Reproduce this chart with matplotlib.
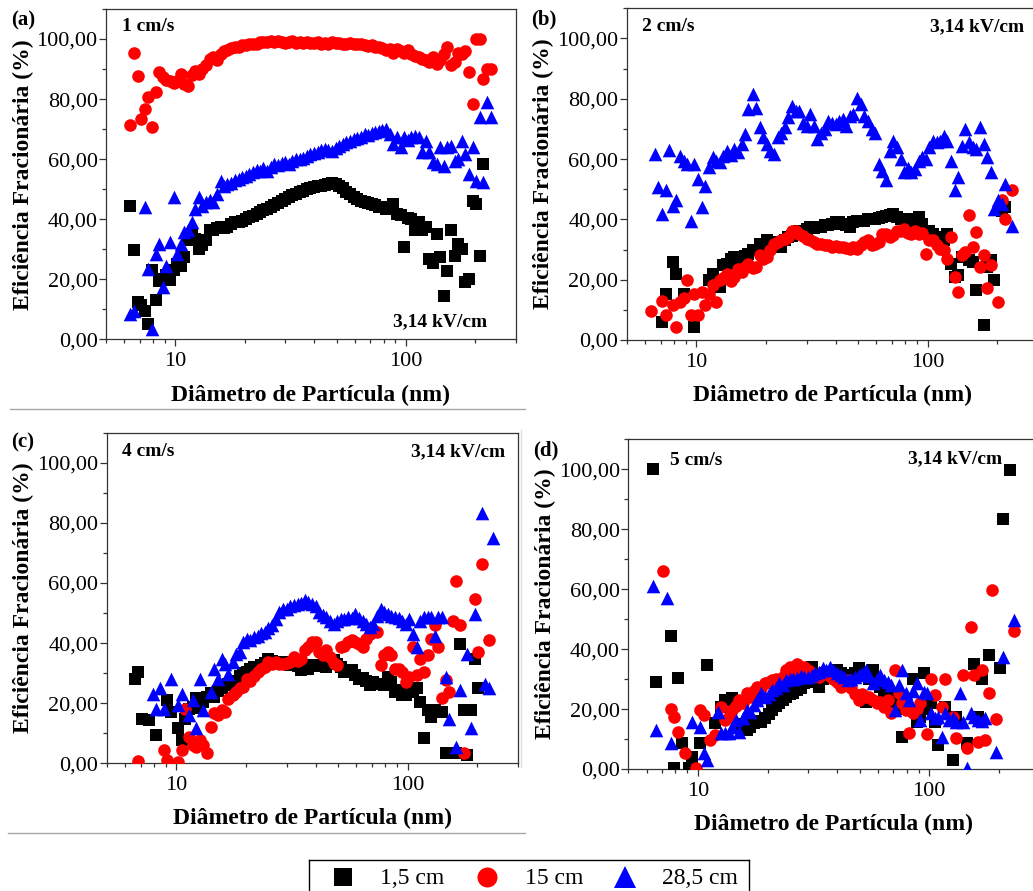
import numpy as np
import matplotlib
matplotlib.use("Agg")
import matplotlib.pyplot as plt
from matplotlib.ticker import FixedLocator, LogLocator, FuncFormatter, NullFormatter, MultipleLocator
from matplotlib.lines import Line2D

plt.rcParams['font.family'] = 'Liberation Serif'

nan = np.nan

# SMPS channel midpoints (nm)
diam = [6.38, 6.61, 6.85, 7.09, 7.37, 7.64, 7.91, 8.20, 8.51, 8.81,
        9.14, 9.47, 9.82, 10.2, 10.6, 10.9, 11.3, 11.8, 12.2, 12.6,
        13.1, 13.6, 14.1, 14.6, 15.1, 15.7, 16.3, 16.8, 17.5, 18.1,
        18.8, 19.5, 20.2, 20.9, 21.7, 22.5, 23.3, 24.1, 25.0, 25.9,
        26.9, 27.9, 28.9, 30.0, 31.1, 32.2, 33.4, 34.6, 35.9, 37.2,
        38.5, 40.0, 41.4, 42.9, 44.5, 46.1, 47.8, 49.6, 51.4, 53.3,
        55.2, 57.3, 59.4, 61.5, 63.8, 66.1, 68.5, 71.0, 73.7, 76.4,
        79.1, 82.0, 85.1, 88.2, 91.4, 94.7, 98.2, 101.8, 105.5, 109.4,
        113.4, 117.6, 121.9, 126.3, 131.0, 135.8, 140.7, 145.9, 151.2, 156.8,
        162.5, 168.5, 174.7, 181.1, 187.7, 194.6, 201.7, 209.1, 216.7, 224.7,
        232.9]

# (a) 1 cm/s
a_1_5 = [44.3, 29.8, 12.4, 11.5, 9.6, 5.2, 23, 13, 19.6, 20.2,
         21.5, 19.8, 23, 25.2, 24.5, 27.4, 33, 35, 33.5, 30.2,
         31.5, 33, 36.3, 36.5, 37, 37.5, 37.2, 37.4, 38.5, 39,
         39, 39.5, 40.2, 40.7, 41, 41.8, 42.5, 43, 43.5, 44.2,
         44.8, 45.5, 46.2, 46.8, 47.3, 48, 48.5, 49, 49.5, 50,
         50.3, 50.7, 51, 51.2, 51.5, 51.8, 52, 51.6, 51.2, 50.3,
         49.2, 48.4, 47.5, 46.8, 46.2, 45.9, 45.5, 45, 44.6, 44.2,
         44, 43.5, 44, 45.1, 41.8, 41.5, 30.7, 40.5, 40, 36.3,
         39, 36.3, 37.4, 26.8, 25.5, 35.2, 27.4, 14.6, 22.9, 36.3,
         27.9, 31.8, 30, 19, 20.2, 46.2, 45.1, 27.9, 58.4, nan,
         nan]
a_15 = [71.5, 95.3, 87.6, 73.4, 76.7, 80.6, 70.8, 82.3, 88.9, 87.5,
        86.5, 86, 85.5, 86, 88.5, 85, 84.5, 88, 89.5, 88.5,
        90, 91.5, 93.5, 94, 93, 95, 96, 96.5, 97, 97.5,
        97.5, 98, 98, 98.5, 98.5, 98.5, 99, 99, 99, 99.2,
        99, 99.3, 99, 98.8, 99, 99.2, 98.8, 99, 98.7, 99,
        98.8, 98.6, 99, 98.5, 98.8, 98.5, 99, 98.8, 98.8, 98.5,
        98.5, 98.7, 98.3, 98.5, 98.2, 98, 97.8, 98, 97.5, 97.3,
        97, 96.5, 96.8, 95.5, 96.7, 96, 95.5, 96.2, 95, 94.5,
        94, 93.5, 93, 92.5, 94, 91.7, 93, 95, 97.2, 91.5,
        92.2, 95.5, 95, 96, 88.9, 78.4, 100, 100, 86.7, 90,
        90]
a_28_5 = [8.5, 9.6, nan, nan, 44.2, 23.5, 3.5, 28.5, 31.8, 17.6,
          24.6, 32.4, 47.3, 28.5, 31.8, 35.7, 36.5, 39, 43.5, 47.3,
          44.5, 45.7, 46.5, 45.7, 48.4, 52.9, 51, 51.8, 52.2, 53,
          53.4, 54, 54.5, 55.2, 55.7, 56.5, 56.2, 57, 56.2, 57.5,
          58.4, 58, 58.8, 59, 58.4, 59.3, 60, 60, 60.5, 61.2,
          61.8, 62, 62.5, 63, 63.4, 63.2, 62.9, 63.8, 64.5, 65.1,
          65.8, 66.2, 66.7, 67.2, 67.5, 68.4, 68.2, 68.8, 69, 69.5,
          69.8, 70, 68.5, 65.1, 67.3, 64, 67.3, 66.5, 67.3, 67.8,
          67.3, 62.4, 66.2, 62.3, 59, 58.4, 64, 57.9, 64, 64.5,
          59.5, 60.1, 66.2, 61.8, 55.1, 64, 52.9, 73.9, 52.3, 78.9,
          73.9]

# (b) 2 cm/s
b_1_5 = [nan, nan, nan, 6.1, 15.4, nan, 25.9, 22, nan, 15.4,
         nan, nan, 4.4, nan, nan, nan, 19.8, 22, nan, 17.6,
         24.8, 25.3, 27, 27.5, 26.5, 27.5, 28, 28.6, 29.7, 30,
         31.9, 31, 33, 32, 32.5, 31.5, 30.8, 33, 34, 34.5,
         35.2, 36.3, 36.3, 36.8, 37.4, 37, 37.4, 37.5, 38, 38.3,
         38.5, 39, 39.1, 38.5, 38, 37.4, 39.1, 39.3, 39.6, 39.4,
         40, 40.2, 40, 40.5, 40.7, 41, 41.3, 41.9, 40.8, 40.2,
         40, 39.6, 39.1, 40, 40.7, 38.5, 36.3, 36.3, 35, 33,
         34, 33, 35.2, 25.3, 20.9, 21.5, 27.5, 27.5, 26.4, 26,
         16.5, nan, 5, 24.2, 26.4, 19.8, nan, 42.9, 44, nan,
         nan]
b_15 = [9.6, nan, nan, 12.9, 8.3, nan, 11.6, 4.4, 12.7, 14,
        19.8, 8.3, 15.4, 8.3, 16, 11.6, 15.4, 18.2, 12.7, 19.8,
        20.4, 22, 19.5, 20.9, 23.7, 22.5, 24.2, 25.3, 24, 24.2,
        28.1, 27, 27.5, 30, 31.9, 32.5, 33, 33.5, 34.1, 36.3,
        36, 35.2, 34.5, 33.6, 33, 32.5, 32, 31.9, 31.5, 31.4,
        31, 31.2, 30.8, 31, 30.5, 30.3, 30.8, 30.3, 31.5, 32.5,
        33, 31.4, 32, 32.5, 35.2, 35.2, 34, 34.7, 36.3, 36.3,
        36.9, 35.5, 35.2, 36.3, 35.2, 35.5, 28.6, 33, 33, 31.4,
        30.3, 30, 27, 34.1, 20.9, 16, 28.1, 29.2, 41.3, 30.8,
        35.8, 24.2, 28.1, 17.1, 24.8, nan, 12.7, 46.3, 40.2, nan,
        49.8]
b_28_5 = [nan, 61.7, 50.7, 41.9, 49.6, 63, 44.6, 46.3, 61.1, 59.5,
          58.4, 39.6, 58.4, 53.4, 44, 51.2, 57.3, 60.6, 59.5, 58.9,
          61, 62.8, 61.5, 63.3, 62.2, 65, 68.3, 76.5, 81.5, 77.1,
          70.5, 67.2, 65, 62.8, 61.7, 67.2, 68.5, 70.5, 73.8, 77.6,
          76, 76, 72.1, 71, 74.9, 71, 66.6, 68.8, 70, 72.7,
          72, 71.6, 72.5, 73.2, 71, 74.3, 74.9, 80.4, 78.2, 74.3,
          72.7, 70, 68.8, 58.4, 56.2, 52.9, 62.8, 66.1, 63.9, 60,
          55.6, 57, 55.6, 56.7, 59.5, 60.6, 60, 63.9, 66.1, 65.5,
          66.1, 67.7, 66, 59.5, 49.6, 54, 64.4, 69.9, 65.5, 63.9,
          63.5, 70.5, 65, 60.6, 55.6, 43.5, 46.3, 45.2, 51.8, nan,
          37.7]

# (c) 4 cm/s
c_1_5 = [nan, 28.2, 30.4, 14.9, nan, 14.4, nan, 9.4, nan, nan,
         21, 17.1, nan, 11.6, 7.7, 14.9, 18.2, 18.8, 21.6, 18.5,
         20.4, 22, 23.5, 22.1, 24, 24.9, 26, 26.5, 27.5, 27.1,
         29, 30, 30.5, 31.5, 32, 32, 32.6, 33.5, 34.8, 34,
         33.7, 33.5, 33.7, 33, 32.6, 33, 32.5, 30.9, 32, 31.5,
         32.6, 32.8, 32.3, 32.6, 32, 33, 34.3, 33, 32, 30.4,
         31, 30.9, 29.5, 28.2, 28.5, 27.5, 26, 27.1, 26.5, 26.5,
         26, 28.7, 27.1, 23.7, 24.3, 22.6, 22.7, 23.8, 23.7, 24.9,
         20.4, 8.3, 17.7, 15.5, 17.7, nan, 17.1, 3.3, nan, nan,
         3.3, 39.8, 17.7, 2.8, 17.7, 34.8, 24.9, nan, nan, nan,
         nan]
c_15 = [nan, nan, 0.9, nan, nan, nan, nan, nan, nan, 4.4,
        1.1, nan, nan, 0.6, 4.4, 18.2, 8.8, 6.1, 5.5, 7.7,
        6.1, 3.3, 12.2, 16.6, 16, 17.7, 17.1, 21.5, 22.6, 23.8,
        24.9, 25.4, 28.2, 27.5, 29, 30.4, 31.5, 32, 33.7, 33,
        33.7, 33, 33.1, 33.5, 33.7, 35.4, 34, 34.8, 37.6, 38.7,
        40.3, 40.3, 37, 36, 37.6, 35.4, 33.5, 32.6, 38.7, 39.2,
        40.3, 40.9, 40.3, 39.8, 38.7, 41.4, 43.1, 44.2, 43.6, 32.6,
        35.9, 37, 35.9, 31.5, 31.5, 30.4, 27.1, 28.7, 38.7, 29.3,
        34.8, 30.4, 35.9, 41.4, 45.9, 38.7, 21.6, 27.6, 23.7, 47.5,
        60.8, 45.9, 3.5, nan, nan, 54.7, 37, 66.3, nan, 40.9,
        nan]
c_28_5 = [nan, nan, nan, nan, nan, nan, 23.2, 18.2, 24.9, 18.2,
          nan, 28.2, nan, 19.3, 23.2, nan, 16, 21, 11.6, 28.2,
          17.7, nan, 23.7, 31.5, 28.2, 34.8, 33, 29.8, 33.7, 36.5,
          37, 40.3, 41.4, 41, 42, 42.5, 43.5, 43.6, 45, 45.9,
          48, 50.3, 51.4, 51.5, 52.5, 52.8, 53, 53.5, 54.2, 53.8,
          53, 52.5, 50.3, 49.5, 48.6, 47.5, 46.4, 47.5, 48.1, 48,
          48.6, 48.2, 49.7, 48.5, 47.5, 46.5, 45.3, 46.4, 49, 51.4,
          50.5, 49.7, 49, 48.6, 48.5, 47.5, 46.4, 48.1, 43.1, 38.7,
          47.5, 48.6, 48.6, 48.6, 42.5, 48.6, 48.6, 28.7, 14.9, nan,
          5.5, 24.3, nan, 36.5, 11.6, 49.7, nan, 83.4, 26.5, 24.9,
          75.1]

# (d) 5 cm/s
d_1_5 = [100, 29.1, nan, nan, nan, 44.3, 0.2, 30.4, 8.6, nan,
         0.2, 4.1, nan, 8.6, nan, 34.7, nan, 15.2, nan, 20.8,
         23, nan, 23.6, nan, 14.1, 15, 13, 14, 15.2, 16,
         15.8, 17, 18.5, 19.7, 21, 22, 23, 24.1, 25, 25.5,
         26.3, 27, 28.6, 29, 34.1, 30, 27.4, 30, 31.9, 32,
         31.5, 33, 32, 31.5, 30.8, 31.5, 32, 33.6, 31, 22.4,
         30, 33, 29, 27.4, 26, 24.1, 23, 21.9, 20, 10.8,
         20.8, nan, 30.2, 15.8, 17.4, 31.9, 20, 21.9, 15.8, 8,
         nan, 20.8, nan, 3, 17.4, nan, nan, 8.6, nan, 35.2,
         17.4, 30.2, nan, 38, nan, nan, 33.6, 83.3, nan, 99.9,
         nan]
d_15 = [nan, nan, nan, 66.1, nan, 19.9, 17.2, 12.2, nan, 5.2,
        nan, nan, 0.2, 19.7, 18, nan, 9.7, 11.3, nan, 20.8,
        16.3, 17.5, 19.7, 21, 23, 22, 25.2, 24.1, 26, 27.4,
        27, 28.6, 29, 29.7, 30, 29.5, 30.8, 33, 34.1, 33,
        35.2, 33.5, 34.1, 33, 31.9, 31, 30.8, 32, 32.4, 31,
        30.2, 29, 27.4, 28.5, 29.7, 27, 25, 23, 25, 24,
        24.1, 23, 21.9, 22.5, 20.8, 23, 18.6, 33, 25.2, 22,
        19.7, 12.1, 18.6, 20, 21.9, nan, 11.7, 30.2, 24.7, nan,
        20.8, 30.2, nan, 17.4, 10.2, nan, 31.3, 6.9, 47.4, 31.3,
        9.1, 33, 9.7, 25.4, 59.9, 16.6, nan, nan, nan, nan,
        46.1]
d_28_5 = [61.1, 13, nan, nan, 56.9, 8.6, nan, nan, nan, nan,
          nan, 15.8, nan, 14.1, 5.2, 3, nan, nan, 19.1, 11.9,
          12, 11.9, 14, 16.3, 12.4, 17, 19.7, 19, 21.3, 23,
          25.2, 24.1, 25, 26.3, 27, 28.6, 28, 29.7, 30, 30.2,
          30.5, 31, 30.8, 30.8, 31.5, 31.9, 32.5, 33.6, 33, 34.1,
          33, 31.9, 31.5, 30.8, 29.7, 30, 30.8, 31.5, 32, 33,
          31, 28.6, 30, 31.3, 29.7, 29.1, 28, 19.7, 28, 33,
          25.2, 23, 26, 28.6, 16.3, 25.8, 25.2, 18.6, 17, 17.4,
          10.8, 18.6, 16.3, 17, 15.8, 25.2, 15.8, 0.2, 18.6, 17.5,
          16.3, 16, 16.9, nan, nan, 5.8, nan, 37.4, nan, nan,
          49.7]

series_labels = ['1,5 cm', '15 cm', '28,5 cm']
colors = ['#000000', '#ff0000', '#0000ff']
markers = ['s', 'o', '^']
sizes = [64, 82, 96]

panels = [
    dict(rect=[0.1026, 0.6190, 0.3969, 0.3709], tag='(a)', speed='1 cm/s',
         data=[a_1_5, a_15, a_28_5], tag_pos=(-0.2317, 0.964),
         speed_pos=(0.038, 0.946), kv_pos=(0.9285, 0.054)),
    dict(rect=[0.6067, 0.6184, 0.3980, 0.3723], tag='(b)', speed='2 cm/s',
         data=[b_1_5, b_15, b_28_5], tag_pos=(-0.2328, 0.965),
         speed_pos=(0.0365, 0.9466), kv_pos=(0.9674, 0.9446)),
    dict(rect=[0.1033, 0.1433, 0.3982, 0.3710], tag='(c)', speed='4 cm/s',
         data=[c_1_5, c_15, c_28_5], tag_pos=(-0.2327, 0.970),
         speed_pos=(0.0365, 0.9447), kv_pos=(0.9684, 0.9425)),
    dict(rect=[0.6082, 0.1369, 0.3981, 0.3700], tag='(d)', speed='5 cm/s',
         data=[d_1_5, d_15, d_28_5], tag_pos=(-0.2318, 0.9676),
         speed_pos=(0.1014, 0.937), kv_pos=(0.908, 0.9424)),
]

fig = plt.figure(figsize=(10.33, 8.91), dpi=100)

comma_fmt = FuncFormatter(lambda v, p: f"{v:.2f}".replace('.', ','))

for p in panels:
    ax = fig.add_axes(p['rect'])
    for vals, c, m, s in zip(p['data'], colors, markers, sizes):
        ax.scatter(diam, vals, s=s, marker=m, color=c, linewidths=0, zorder=3)
    ax.set_xscale('log')
    ax.set_xlim(5, 300)
    ax.set_ylim(0, 110)
    ax.xaxis.set_major_locator(FixedLocator([10, 100]))
    ax.xaxis.set_major_formatter(FuncFormatter(lambda v, pos: f"{v:g}"))
    ax.xaxis.set_minor_locator(LogLocator(base=10, subs=range(2, 10)))
    ax.xaxis.set_minor_formatter(NullFormatter())
    ax.yaxis.set_major_locator(MultipleLocator(20))
    ax.yaxis.set_minor_locator(MultipleLocator(10))
    ax.yaxis.set_major_formatter(comma_fmt)
    ax.tick_params(which='both', direction='out', top=False, right=False,
                   width=0.9, color='#333333', labelsize=16)
    ax.tick_params(which='major', length=5)
    ax.tick_params(which='minor', length=3)
    ax.tick_params(axis='y', pad=1)
    ax.tick_params(axis='x', pad=4)
    for sp in ax.spines.values():
        sp.set_linewidth(0.9)
        sp.set_color('#333333')

    ax.text(-0.202, 0.5, 'Eficiência Fracionária (%)', transform=ax.transAxes,
            rotation=90, ha='center', va='center', fontsize=17, fontweight='bold')
    ax.text(0.5, -0.168, 'Diâmetro de Partícula (nm)', transform=ax.transAxes,
            ha='center', va='center', fontsize=17, fontweight='bold')
    ax.text(*p['tag_pos'], p['tag'], transform=ax.transAxes,
            ha='left', va='center', fontsize=15, fontweight='bold')
    ax.text(*p['speed_pos'], p['speed'], transform=ax.transAxes,
            ha='left', va='center', fontsize=14, fontweight='bold')
    ax.text(*p['kv_pos'], '3,14 kV/cm', transform=ax.transAxes,
            ha='right', va='center', fontsize=14, fontweight='bold')

# thin separators between the panel rows
fig.add_artist(Line2D([10 / 1033, 525 / 1033], [1 - 409 / 891, 1 - 409 / 891],
                      transform=fig.transFigure, color='#a8a8a8', lw=1))
fig.add_artist(Line2D([8 / 1033, 525 / 1033], [1 - 833 / 891, 1 - 833 / 891],
                      transform=fig.transFigure, color='#a8a8a8', lw=1))
fig.add_artist(Line2D([521 / 1033, 521 / 1033], [1 - 430 / 891, 1 - 767 / 891],
                      transform=fig.transFigure, color='#dcdcdc', lw=1))

# shared legend box at the bottom
lax = fig.add_axes([309.3 / 1033, -0.02, 440 / 1033, 0.0548])
lax.set_xlim(0, 1)
lax.set_ylim(0, 1)
lax.set_xticks([])
lax.set_yticks([])
for sp in lax.spines.values():
    sp.set_linewidth(1.0)
    sp.set_color('#000000')
leg_marker_x = [0.0759, 0.4032, 0.7175]
leg_text_x = [0.1607, 0.4902, 0.8009]
leg_msize = [13, 14.4, 16]
for lab, c, m, ms, mx, tx in zip(series_labels, colors, markers, leg_msize,
                                 leg_marker_x, leg_text_x):
    lax.plot([mx], [0.66], marker=m, markersize=ms, color=c, linestyle='none',
             markeredgewidth=0)
    lax.text(tx, 0.508, lab, ha='left', va='baseline', fontsize=17)

fig.savefig('out.png', dpi=100)
